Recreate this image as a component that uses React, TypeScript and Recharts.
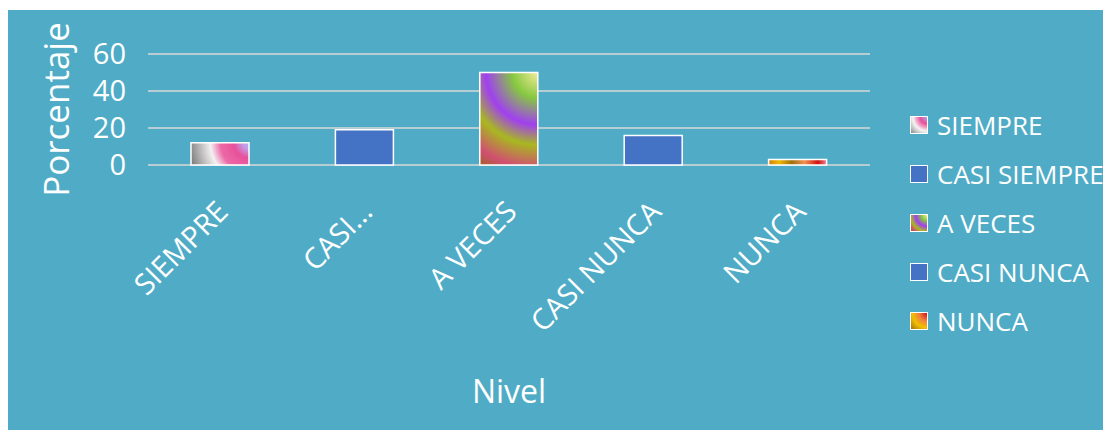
import { BarChart, Bar, XAxis, YAxis, CartesianGrid, Legend, Cell } from 'recharts';

const categories = ['SIEMPRE', 'CASI SIEMPRE', 'A VECES', 'CASI NUNCA', 'NUNCA'];
const tickLabels = ['SIEMPRE', 'CASI...', 'A VECES', 'CASI NUNCA', 'NUNCA'];
const porcentaje = [12, 19, 50, 16, 3];
const yTicks = [0, 20, 40, 60];

const fills = ['url(#gSiempre)', '#4472c4', 'url(#gAveces)', '#4472c4', 'url(#gNunca)'];
const swatches = [
  'radial-gradient(circle at 100% 0%, #a9a6f2 0%, #e8509a 30%, #f2a6c8 48%, #f4f4f4 62%, #8a8a8a 100%)',
  '#4472c4',
  'radial-gradient(circle at 100% 0%, #f2ec98 0%, #86c840 25%, #a040f0 50%, #a8b820 72%, #d05070 88%, #a06020 100%)',
  '#4472c4',
  'radial-gradient(circle at 100% 0%, #d01010 0%, #f08040 35%, #f0c000 65%, #a07010 100%)',
];

const data = categories.map((c, i) => ({ name: c, label: tickLabels[i], value: porcentaje[i] }));

const font = '"Open Sans", sans-serif';

const LegendBox = () => (
  <div style={{ fontFamily: font, color: '#fff', fontSize: 26 }}>
    {categories.map((c, i) => (
      <div key={c} style={{ display: 'flex', alignItems: 'center', height: 49 }}>
        <span
          style={{
            width: 16,
            height: 16,
            border: '1.5px solid #fff',
            background: swatches[i],
            marginRight: 9,
            display: 'inline-block',
          }}
        />
        <span>{c}</span>
      </div>
    ))}
  </div>
);

const YLabel = (props: any) => {
  const { viewBox } = props;
  const x = viewBox.x + 47;
  const y = viewBox.y + viewBox.height / 2;
  return (
    <text
      x={x}
      y={y}
      transform={`rotate(-90 ${x} ${y})`}
      textAnchor="middle"
      dominantBaseline="central"
      fill="#fff"
      fontSize={35}
      fontFamily={font}
    >
      Porcentaje
    </text>
  );
};

export default function App() {
  return (
    <div style={{ width: 1103, height: 420, marginTop: 2, background: '#50acc6' }}>
      <BarChart width={1103} height={420} data={data} margin={{ top: 44, right: 241, bottom: 0, left: 0 }}>
        <defs>
          {/* radial fills centred on the top-right corner, made circular for each bar's aspect */}
          <radialGradient
            id="gSiempre"
            cx="1"
            cy="0"
            r="1.07"
            fx="1"
            fy="0"
            gradientTransform="translate(1 0) scale(1 2.64) translate(-1 0)"
          >
            <stop offset="0" stopColor="#b4b0f4" />
            <stop offset="0.1" stopColor="#c49ae6" />
            <stop offset="0.24" stopColor="#e8509a" />
            <stop offset="0.46" stopColor="#ec6aa6" />
            <stop offset="0.62" stopColor="#f4f0f2" />
            <stop offset="1" stopColor="#767676" />
          </radialGradient>
          <radialGradient
            id="gAveces"
            cx="1"
            cy="0"
            r="1.2"
            fx="1"
            fy="0"
            gradientTransform="translate(1 0) scale(1.586 1) translate(-1 0)"
          >
            <stop offset="0" stopColor="#f2ec98" />
            <stop offset="0.23" stopColor="#86c840" />
            <stop offset="0.47" stopColor="#a040f0" />
            <stop offset="0.65" stopColor="#a8b820" />
            <stop offset="0.86" stopColor="#d05070" />
            <stop offset="1" stopColor="#a06020" />
          </radialGradient>
          <linearGradient id="gNunca" x1="0" y1="0" x2="1" y2="0">
            <stop offset="0" stopColor="#d08010" />
            <stop offset="0.18" stopColor="#f0b800" />
            <stop offset="0.4" stopColor="#a07010" />
            <stop offset="0.62" stopColor="#f09050" />
            <stop offset="0.85" stopColor="#d01010" />
            <stop offset="1" stopColor="#f08090" />
          </linearGradient>
        </defs>
        <CartesianGrid vertical={false} stroke="#d9d9d9" strokeWidth={1.5} />
        <XAxis
          dataKey="name"
          tickFormatter={(_v: string, i: number) => tickLabels[i]}
          interval={0}
          angle={-45}
          textAnchor="end"
          height={265}
          axisLine={false}
          tickLine={false}
          tickSize={0}
          tickMargin={34}
          tick={{ fill: '#fff', fontSize: 29, fontFamily: font, dx: -5 }}
          label={{ value: 'Nivel', position: 'insideBottom', offset: 27, fill: '#fff', fontSize: 32, fontFamily: font }}
        />
        <YAxis
          domain={[0, 60]}
          ticks={yTicks}
          interval={0}
          width={140}
          axisLine={false}
          tickLine={false}
          tickSize={0}
          tickMargin={22}
          tick={{ fill: '#fff', fontSize: 29, fontFamily: font }}
          label={<YLabel />}
        />
        <Legend
          layout="vertical"
          align="center"
          verticalAlign="middle"
          content={<LegendBox />}
          wrapperStyle={{ position: 'absolute', left: 902, top: 90, width: 210 }}
        />
        <Bar dataKey="value" barSize={58} stroke="#fff" strokeWidth={1.5} isAnimationActive={false}>
          {data.map((d, i) => (
            <Cell key={d.name} fill={fills[i]} />
          ))}
        </Bar>
      </BarChart>
    </div>
  );
}
